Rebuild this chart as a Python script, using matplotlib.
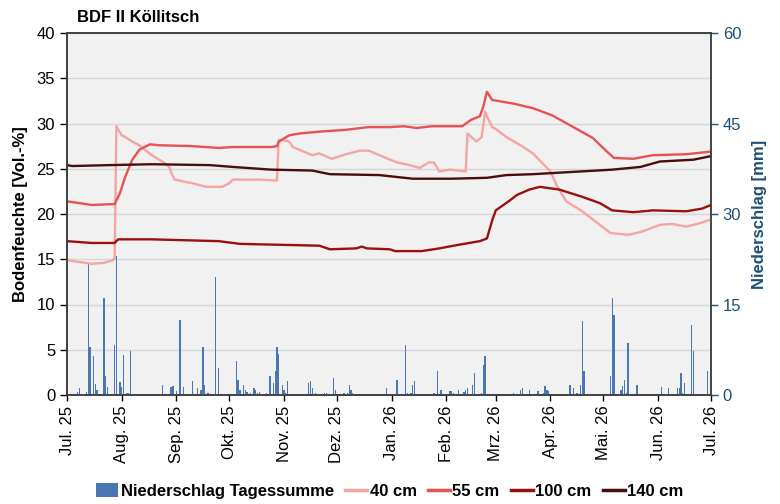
import numpy as np
import matplotlib
matplotlib.use("Agg")
import matplotlib.pyplot as plt
from matplotlib.patches import Patch
from matplotlib.lines import Line2D

plt.rcParams['font.family'] = ['Liberation Sans', 'DejaVu Sans']

title = "BDF II Köllitsch"
month_labels = ["Jul. 25", "Aug. 25", "Sep. 25", "Okt. 25", "Nov. 25", "Dez. 25",
                "Jan. 26", "Feb. 26", "Mrz. 26", "Apr. 26", "Mai. 26", "Jun. 26", "Jul. 26"]
month_ticks = ["2025-07-01", "2025-08-01", "2025-09-01", "2025-10-01", "2025-11-01", "2025-12-01",
               "2026-01-01", "2026-02-01", "2026-03-01", "2026-04-01", "2026-05-01", "2026-06-01", "2026-07-01"]

# daily precipitation (mm), days with rain
rain_dates = ["2025-07-04", "2025-07-07", "2025-07-08", "2025-07-12", "2025-07-13", "2025-07-14",
              "2025-07-16", "2025-07-17", "2025-07-18", "2025-07-22", "2025-07-23", "2025-07-24",
              "2025-07-28", "2025-07-29", "2025-07-31", "2025-08-01", "2025-08-02", "2025-08-04",
              "2025-08-05", "2025-08-06", "2025-08-08", "2025-08-24", "2025-08-29", "2025-08-30",
              "2025-09-01", "2025-09-03", "2025-09-05", "2025-09-10", "2025-09-13", "2025-09-15",
              "2025-09-16", "2025-09-17", "2025-09-19", "2025-09-21", "2025-09-23", "2025-09-25",
              "2025-09-26", "2025-10-05", "2025-10-06", "2025-10-07", "2025-10-09", "2025-10-10",
              "2025-10-11", "2025-10-13", "2025-10-15", "2025-10-16", "2025-10-17", "2025-10-18",
              "2025-10-22", "2025-10-24", "2025-10-26", "2025-10-27", "2025-10-28", "2025-10-29",
              "2025-10-31", "2025-11-01", "2025-11-02", "2025-11-03", "2025-11-15", "2025-11-16",
              "2025-11-17", "2025-11-19", "2025-11-24", "2025-11-25", "2025-11-27", "2025-11-29",
              "2025-11-30", "2025-12-05", "2025-12-07", "2025-12-08", "2025-12-09", "2025-12-10",
              "2025-12-29", "2026-01-01", "2026-01-04", "2026-01-09", "2026-01-10", "2026-01-12",
              "2026-01-13", "2026-01-14", "2026-01-25", "2026-01-27", "2026-01-29", "2026-02-03",
              "2026-02-04", "2026-02-05", "2026-02-08", "2026-02-11", "2026-02-12", "2026-02-13",
              "2026-02-16", "2026-02-17", "2026-02-18", "2026-02-21", "2026-02-22", "2026-02-23",
              "2026-02-24", "2026-03-11", "2026-03-12", "2026-03-15", "2026-03-16", "2026-03-20",
              "2026-03-25", "2026-03-28", "2026-03-29", "2026-03-30", "2026-03-31", "2026-04-12",
              "2026-04-14", "2026-04-16", "2026-04-18", "2026-04-19", "2026-04-20", "2026-05-05",
              "2026-05-06", "2026-05-07", "2026-05-11", "2026-05-12", "2026-05-13", "2026-05-14",
              "2026-05-15", "2026-05-20", "2026-06-01", "2026-06-03", "2026-06-05", "2026-06-07",
              "2026-06-12", "2026-06-13", "2026-06-14", "2026-06-15", "2026-06-16", "2026-06-20",
              "2026-06-21", "2026-06-29"]
rain_mm = [0.2, 0.5, 1.2, 0.5, 21.7, 8.0,
           6.4, 1.9, 0.9, 16.0, 3.1, 1.3,
           8.3, 23.0, 2.1, 1.4, 6.7, 0.4,
           0.4, 7.3, 0.2, 1.7, 1.4, 1.5,
           0.7, 12.4, 1.3, 2.3, 1.2, 0.8,
           8.0, 1.7, 0.3, 0.2, 19.5, 4.5,
           0.2, 5.6, 2.5, 0.9, 1.7, 0.8,
           0.5, 0.4, 1.2, 0.8, 0.4, 0.5,
           0.4, 3.1, 2.0, 3.9, 8.0, 6.8,
           1.7, 0.8, 0.4, 2.3, 2.0, 2.3,
           1.2, 0.4, 0.3, 0.3, 0.2, 2.8,
           0.9, 0.4, 0.4, 1.7, 0.8, 0.4,
           1.1, 0.2, 2.5, 8.3, 0.4, 0.3,
           1.7, 2.3, 0.3, 4.0, 0.8, 0.7,
           0.7, 0.3, 0.8, 0.5, 0.8, 1.1,
           1.7, 3.6, 0.2, 0.4, 5.0, 6.5,
           0.2, 0.4, 0.2, 0.8, 1.1, 0.8,
           0.7, 0.4, 1.5, 0.8, 0.7, 1.7,
           1.2, 0.3, 1.7, 12.3, 4.0, 3.1,
           16.0, 13.3, 0.8, 1.5, 2.5, 0.4,
           8.7, 1.7, 0.2, 1.4, 0.2, 1.2,
           1.2, 1.2, 3.7, 0.3, 2.0, 11.6,
           7.3, 3.9]

# soil moisture (Vol.-%)
d40 = ["2025-07-01", "2025-07-08", "2025-07-15", "2025-07-22", "2025-07-27", "2025-07-28",
       "2025-07-29", "2025-07-31", "2025-08-01", "2025-08-03", "2025-08-07", "2025-08-11",
       "2025-08-18", "2025-08-24", "2025-08-28", "2025-08-29", "2025-08-31", "2025-09-10",
       "2025-09-18", "2025-09-27", "2025-10-01", "2025-10-03", "2025-10-18", "2025-10-28",
       "2025-10-29", "2025-11-02", "2025-11-04", "2025-11-06", "2025-11-17", "2025-11-21",
       "2025-11-28", "2025-12-06", "2025-12-14", "2025-12-19", "2025-12-25", "2026-01-04",
       "2026-01-09", "2026-01-17", "2026-01-22", "2026-01-25", "2026-01-28", "2026-02-03",
       "2026-02-07", "2026-02-12", "2026-02-13", "2026-02-18", "2026-02-21", "2026-02-23",
       "2026-02-24", "2026-02-27", "2026-03-01", "2026-03-07", "2026-03-15", "2026-03-22",
       "2026-04-01", "2026-04-05", "2026-04-10", "2026-04-19", "2026-04-29", "2026-05-05",
       "2026-05-15", "2026-05-22", "2026-06-02", "2026-06-09", "2026-06-17", "2026-06-25",
       "2026-07-01"]
v40 = [14.9, 14.7, 14.5, 14.6, 14.9, 15.1,
       29.7, 29.0, 28.7, 28.5, 28.0, 27.6,
       26.5, 25.8, 25.2, 24.6, 23.8, 23.4,
       23.0, 23.0, 23.4, 23.8, 23.8, 23.7,
       28.2, 28.1, 28.0, 27.4, 26.5, 26.7,
       26.1, 26.6, 27.0, 27.0, 26.5, 25.7,
       25.5, 25.1, 25.7, 25.7, 24.7, 24.9,
       24.8, 24.7, 28.9, 28.0, 28.5, 31.3,
       30.8, 29.6, 29.4, 28.5, 27.6, 26.7,
       24.7, 23.0, 21.4, 20.3, 18.8, 17.9,
       17.7, 18.0, 18.8, 18.9, 18.6, 19.0,
       19.4]

d55 = ["2025-07-01", "2025-07-15", "2025-07-28", "2025-07-31", "2025-08-03", "2025-08-07",
       "2025-08-11", "2025-08-17", "2025-08-22", "2025-09-10", "2025-09-25", "2025-10-03",
       "2025-10-25", "2025-10-28", "2025-10-29", "2025-11-04", "2025-11-10", "2025-11-21",
       "2025-12-06", "2025-12-19", "2025-12-31", "2026-01-08", "2026-01-15", "2026-01-24",
       "2026-02-10", "2026-02-15", "2026-02-20", "2026-02-22", "2026-02-24", "2026-02-27",
       "2026-03-11", "2026-03-22", "2026-04-02", "2026-04-14", "2026-04-25", "2026-05-03",
       "2026-05-07", "2026-05-18", "2026-05-29", "2026-06-17", "2026-07-01"]
v55 = [21.4, 21.0, 21.1, 22.3, 24.1, 26.0,
       27.1, 27.7, 27.6, 27.5, 27.3, 27.4,
       27.4, 27.5, 28.0, 28.7, 28.9, 29.1,
       29.3, 29.6, 29.6, 29.7, 29.5, 29.7,
       29.7, 30.4, 30.8, 31.9, 33.5, 32.6,
       32.2, 31.7, 30.9, 29.6, 28.4, 26.9,
       26.2, 26.1, 26.5, 26.6, 26.9]

d100 = ["2025-07-01", "2025-07-15", "2025-07-28", "2025-07-30", "2025-08-18", "2025-09-25",
        "2025-10-07", "2025-10-29", "2025-11-21", "2025-11-27", "2025-12-12", "2025-12-15",
        "2025-12-18", "2025-12-31", "2026-01-03", "2026-01-18", "2026-01-28", "2026-02-08",
        "2026-02-20", "2026-02-24", "2026-02-27", "2026-03-01", "2026-03-09", "2026-03-13",
        "2026-03-20", "2026-03-26", "2026-04-06", "2026-04-19", "2026-04-29", "2026-05-06",
        "2026-05-18", "2026-05-29", "2026-06-17", "2026-06-26", "2026-07-01"]
v100 = [17.0, 16.8, 16.8, 17.2, 17.2, 17.0,
        16.7, 16.6, 16.5, 16.1, 16.2, 16.4,
        16.2, 16.1, 15.9, 15.9, 16.2, 16.6,
        17.0, 17.3, 19.3, 20.4, 21.5, 22.1,
        22.7, 23.0, 22.7, 21.9, 21.2, 20.4,
        20.2, 20.4, 20.3, 20.6, 21.0]

d140 = ["2025-07-01", "2025-07-04", "2025-07-25", "2025-08-18", "2025-09-20", "2025-10-03",
        "2025-10-25", "2025-11-17", "2025-11-27", "2025-12-25", "2026-01-13", "2026-02-04",
        "2026-02-24", "2026-03-07", "2026-03-22", "2026-04-18", "2026-05-06", "2026-05-22",
        "2026-06-02", "2026-06-21", "2026-07-01"]
v140 = [25.4, 25.3, 25.4, 25.5, 25.4, 25.2,
        24.9, 24.8, 24.4, 24.3, 23.9, 23.9,
        24.0, 24.3, 24.4, 24.7, 24.9, 25.2,
        25.8, 26.0, 26.4]

series_labels = ["40 cm", "55 cm", "100 cm", "140 cm"]
series_colors = ["#f5a3a3", "#e65252", "#9b0f0f", "#4a0c0c"]
bar_color = "#4a77b4"
rain_label = "Niederschlag Tagessumme"

def to_dt(lst):
    return np.array(lst, dtype="datetime64[D]")

fig = plt.figure(figsize=(7.8, 5.04), dpi=100)
ax = fig.add_axes([67/780, 1-395/504, (711-67)/780, (395-33)/504])
ax2 = ax.twinx()

# bars on right axis, behind lines
ax2.set_zorder(1)
ax.set_zorder(2)
ax.patch.set_visible(False)
ax2.patch.set_facecolor("#f1f1f1")
ax2.patch.set_visible(True)

ax2.bar(to_dt(rain_dates), rain_mm, width=0.75, color=bar_color, zorder=3)
ax2.set_ylim(0, 60)
ax2.set_yticks([0, 15, 30, 45, 60])
ax2.set_yticks(np.arange(0, 61, 7.5), minor=True)
ax2.grid(True, which="both", axis="y", color="#d6d6d6", linewidth=1.0, zorder=0)
ax2.set_axisbelow(True)
ax2.tick_params(axis="y", which="minor", length=0)
ax2.tick_params(axis="y", which="major", colors="#1f4e79", labelsize=12, length=5, width=1)
ax2.set_ylabel("Niederschlag [mm]", color="#1f4e79", fontsize=12, fontweight="bold", labelpad=8)

for d, v, c, lab in zip([d40, d55, d100, d140], [v40, v55, v100, v140], series_colors, series_labels):
    ax.plot(to_dt(d), v, color=c, linewidth=1.7, label=lab, solid_joinstyle="round")

ax.set_ylim(0, 40)
ax.set_yticks(np.arange(0, 41, 5))
ax.tick_params(axis="y", labelsize=12, length=5, width=1)
ax.set_ylabel("Bodenfeuchte [Vol.-%]", fontsize=12, fontweight="bold", labelpad=6)

ax.set_xlim(np.datetime64("2025-07-01"), np.datetime64("2026-07-01"))
ax.set_xticks(to_dt(month_ticks))
ax.set_xticklabels(month_labels, rotation=90, fontsize=12)
ax.tick_params(axis="x", length=4, width=1)

for a in (ax, ax2):
    for s in a.spines.values():
        s.set_color("#404040")
        s.set_linewidth(1.2)
ax2.spines["right"].set_color("#606060")

fig.text(77/780, 1-18/504, title, fontsize=12, fontweight="bold", va="center", ha="left")

handles = [Patch(facecolor=bar_color, edgecolor="none")] + \
          [Line2D([0], [0], color=c, linewidth=2.5) for c in series_colors]
labels = [rain_label] + series_labels
fig.legend(handles, labels, loc="center", bbox_to_anchor=(0.5, 1-491/504), ncol=5,
           frameon=False, prop={"weight": "bold", "size": 12}, handlelength=1.3,
           handletextpad=0.15, columnspacing=0.7, handleheight=0.9)

fig.savefig("out.png", dpi=100)
